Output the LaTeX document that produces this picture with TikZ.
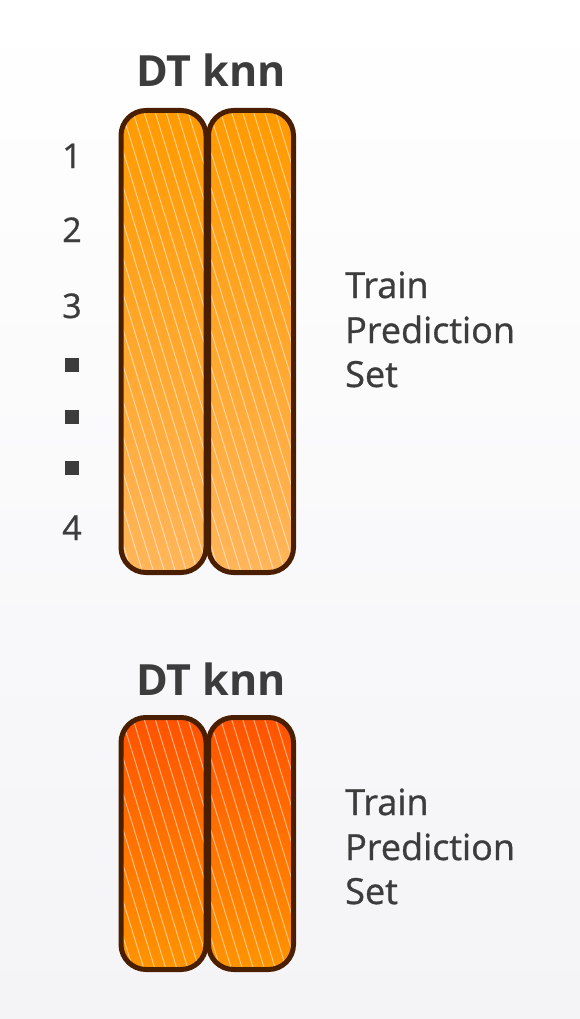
\documentclass[tikz,border=0pt]{standalone}
\usepackage{fontspec}
\setmainfont{Open Sans}
\newfontfamily\labfont{Open Sans}[RawFeature={embolden=0.9}]
\usetikzlibrary{calc}
\definecolor{txt}{HTML}{3C3C3C}
\definecolor{edge}{HTML}{4A1E00}
\definecolor{orA}{HTML}{FF9A00}
\definecolor{orB}{HTML}{FFB55A}
\definecolor{rdA}{HTML}{FF5200}
\definecolor{rdB}{HTML}{FF9400}
\definecolor{bgB}{HTML}{F4F4F7}
\tikzset{
  bar/.style={draw=edge, line width=5pt, rounded corners=25pt, inner sep=0pt, minimum width=85pt,
    path picture={
      \foreach \i in {-16,...,10}
        \draw[white, opacity=0.5, line width=1pt]
          ($(path picture bounding box.north west)+(\i*11pt,2pt)$) -- ++(160pt,-520pt);
    }},
  topbar/.style={bar, minimum height=462pt, top color=orA, bottom color=orB},
  botbar/.style={bar, minimum height=252pt, top color=rdA, bottom color=rdB},
  head/.style={text=txt, font=\bfseries\fontsize{43}{50}\selectfont, anchor=base, inner sep=0pt},
  num/.style={text=txt, font=\labfont\fontsize{34}{38}\selectfont, anchor=base, inner sep=0pt},
  sq/.style={fill=txt, minimum size=14pt, inner sep=0pt},
  lab/.style={text=txt, font=\labfont\fontsize{36}{44}\selectfont, anchor=base west, inner sep=0pt}
}
\begin{document}
\begin{tikzpicture}[x=1pt,y=-1pt]
\useasboundingbox (0,0) rectangle (580,1019);
\shade[top color=white, bottom color=bgB] (0,0) rectangle (580,1019);
% top group
\node[head] (h1) at (211,87) {DT knn};
\node[topbar] (a1) at (163.5,341.5) {};
\node[topbar] (b1) at (251,341.5) {};
\node[num] (n1) at (72,168) {1};
\node[num] (n2) at (72,242) {2};
\node[num] (n3) at (72,318) {3};
\node[sq] (s1) at (72,365) {};
\node[sq] (s2) at (72,417) {};
\node[sq] (s3) at (72,468) {};
\node[num] (n4) at (72,540) {4};
\node[lab] (t1) at (345,298) {Train};
\node[lab] (p1) at (345,343) {Prediction};
\node[lab] (e1) at (345,387) {Set};
% bottom group
\node[head] (h2) at (211,695) {DT knn};
\node[botbar] (a2) at (163.5,843.5) {};
\node[botbar] (b2) at (251,843.5) {};
\node[lab] (t2) at (345,815) {Train};
\node[lab] (p2) at (345,860) {Prediction};
\node[lab] (e2) at (345,904) {Set};
\end{tikzpicture}
\end{document}
